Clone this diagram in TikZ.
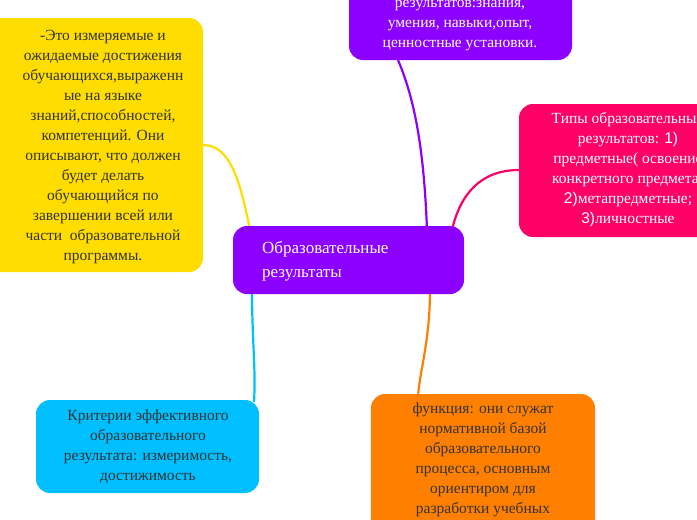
\documentclass[tikz,border=0pt]{standalone}
\usepackage{fontspec}
\setmainfont{Liberation Serif}
\newfontfamily\ser{Liberation Serif}
\newfontfamily\dig{Liberation Sans}
\begin{document}
\begin{tikzpicture}[x=1pt,y=-1pt,
  box/.style={rounded corners=14pt,draw=none},
  txt/.style={align=center,font=\ser\fontsize{15.5}{20}\selectfont,inner sep=0pt},
  conn/.style={line width=2.2pt}]
\useasboundingbox (0,0) rectangle (697,520);
\clip (0,0) rectangle (697,520);
\definecolor{cpur}{HTML}{8B00FF}
\definecolor{cpink}{HTML}{FF0066}
\definecolor{cyel}{HTML}{FFDD00}
\definecolor{cblue}{HTML}{00BFFF}
\definecolor{corg}{HTML}{FF8000}
\definecolor{ctxt}{HTML}{333333}
% connectors
\coordinate (pt) at (398,60);
\coordinate (pk) at (519,170);
\coordinate (yl) at (203,145);
\coordinate (bl) at (254,402);
\coordinate (og) at (418,396);
\draw[conn,cpur] (427,230) .. controls (424,150) and (415,100) .. (pt);
\draw[conn,cpink] (452,230) .. controls (460,195) and (480,170) .. (pk);
\draw[conn,cyel] (250,230) .. controls (240,180) and (230,145) .. (yl);
\draw[conn,cblue] (252,290) .. controls (252,340) and (256,370) .. (bl);
\draw[conn,corg] (430,290) .. controls (430,340) and (420,370) .. (og);
% boxes
\fill[box,cpur] (349,-40) rectangle (572,60);
\node[txt,white] (top) at (460,26) {результатов:знания,\\умения, навыки,опыт,\\ценностные установки.};
\fill[box,cpink] (519,104) rectangle (740,237);
\node[txt,white] (types) at (628,170) {Типы образовательных\\результатов: {\dig 1)}\\предметные( освоение\\конкретного предмета)\\{\dig 2)}метапредметные;\\{\dig 3)}личностные};
\fill[box,cyel] (-20,18) rectangle (203,272);
\node[txt,ctxt] (def) at (103,147) {-Это измеряемые и\\ожидаемые достижения\\обучающихся,выраженн\\ые на языке\\знаний,способностей,\\компетенций. Они\\описывают, что должен\\будет делать\\обучающийся по\\завершении всей или\\части\ \ образовательной\\программы.};
\fill[box,cpur] (233,226) rectangle (464,294);
\node[align=left,anchor=west,white,font=\ser\fontsize{17}{24}\selectfont,inner sep=0pt] (main) at (262,261) {Образовательные\\результаты};
\fill[box,cblue] (36,400) rectangle (259,493);
\node[txt,ctxt] (crit) at (148,447) {Критерии эффективного\\образовательного\\результата: измеримость,\\достижимость};
\fill[box,corg] (371,394) rectangle (595,580);
\node[txt,ctxt,anchor=north] (func) at (483,403) {функция: они служат\\нормативной базой\\образовательного\\процесса, основным\\ориентиром для\\разработки учебных};
\end{tikzpicture}
\end{document}
